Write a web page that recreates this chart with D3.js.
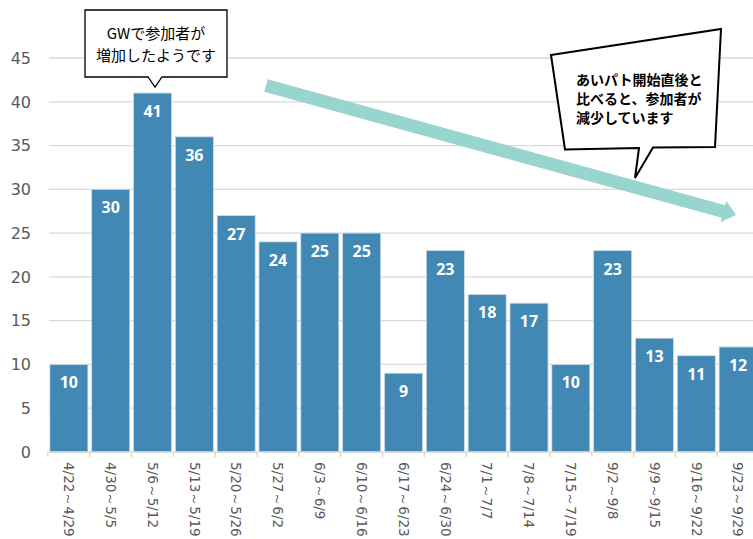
<!DOCTYPE html>
<html>
<head>
<meta charset="utf-8">
<script src="https://cdn.jsdelivr.net/npm/d3@7"></script>
<style>
  body { margin: 0; background: #fff; }
  svg { display: block; }
  .tick-label { font-family: "DejaVu Sans", sans-serif; fill: #595959; }
  .note { font-family: "Noto Sans CJK JP", sans-serif; fill: #000; }
</style>
</head>
<body>
<div class="chart"></div>
<script>
// weekly counts
var weeks = ["4/22～4/29", "4/30～5/5", "5/6～5/12", "5/13～5/19", "5/20～5/26",
  "5/27～6/2", "6/3～6/9", "6/10～6/16", "6/17～6/23", "6/24～6/30", "7/1～7/7",
  "7/8～7/14", "7/15～7/19", "9/2～9/8", "9/9～9/15", "9/16～9/22", "9/23～9/29"];
var counts = [10, 30, 41, 36, 27, 24, 25, 25, 9, 23, 18, 17, 10, 23, 13, 11, 12];
var yTicks = [0, 5, 10, 15, 20, 25, 30, 35, 40, 45];
var note1 = ["GWで参加者が", "増加したようです"];
var note2 = ["あいパト開始直後と", "比べると、参加者が", "減少しています"];

var svgWidth = 753;
var svgHeight = 539;

var data = weeks.map(function (w, i) { return { week: w, count: counts[i] }; });

var svg = d3.select(".chart")
  .append("svg")
  .attr("width", svgWidth)
  .attr("height", svgHeight);

var xScale = d3.scaleBand()
  .domain(weeks)
  .range([49, 758])
  .paddingInner(0.09)
  .paddingOuter(0.02);

var yScale = d3.scaleLinear()
  .domain([0, 45])
  .range([452, 58]);

// gridlines
svg.append("g")
  .selectAll("line")
  .data(yTicks.slice(1))
  .enter()
  .append("line")
  .attr("x1", 49)
  .attr("x2", svgWidth)
  .attr("y1", d => yScale(d))
  .attr("y2", d => yScale(d))
  .attr("stroke", "#d9d9d9")
  .attr("stroke-width", 1.3);

// y labels
svg.append("g")
  .selectAll("text")
  .data(yTicks)
  .enter()
  .append("text")
  .attr("class", "tick-label")
  .attr("x", 31)
  .attr("y", d => yScale(d))
  .attr("dy", "0.36em")
  .attr("text-anchor", "end")
  .style("font-size", "16px")
  .text(d => d);

// bars
svg.append("g")
  .selectAll("rect")
  .data(data)
  .enter()
  .append("rect")
  .attr("x", d => xScale(d.week))
  .attr("y", d => yScale(d.count))
  .attr("width", xScale.bandwidth())
  .attr("height", d => yScale(0) - yScale(d.count))
  .attr("fill", "#4189b4")
  .attr("stroke", "#cfdde6")
  .attr("stroke-width", 0.8);

// value labels
svg.append("g")
  .selectAll("text")
  .data(data)
  .enter()
  .append("text")
  .attr("x", d => xScale(d.week) + xScale.bandwidth() / 2)
  .attr("y", d => yScale(d.count) + 24)
  .attr("text-anchor", "middle")
  .style("font-family", "'Open Sans', sans-serif")
  .style("font-size", "16px")
  .style("font-weight", "bold")
  .style("fill", "#fff")
  .text(d => d.count);

// x axis
var step = xScale.step();
var axis = svg.append("g");
axis.append("line")
  .attr("x1", 49).attr("x2", svgWidth)
  .attr("y1", yScale(0)).attr("y2", yScale(0))
  .attr("stroke", "#d9d9d9").attr("stroke-width", 1.3);
axis.selectAll(".tk")
  .data(weeks)
  .enter()
  .append("line")
  .attr("class", "tk")
  .attr("x1", d => xScale(d) - step * xScale.paddingInner() / 2)
  .attr("x2", d => xScale(d) - step * xScale.paddingInner() / 2)
  .attr("y1", yScale(0))
  .attr("y2", yScale(0) + 5)
  .attr("stroke", "#d9d9d9").attr("stroke-width", 1.5);
axis.selectAll("text")
  .data(weeks)
  .enter()
  .append("text")
  .attr("class", "tick-label")
  .attr("transform", d => `translate(${xScale(d) + xScale.bandwidth() / 2}, 462) rotate(90)`)
  .attr("dy", "0.35em")
  .style("font-size", "13.5px")
  .text(d => d);

// trend arrow
var arrowStart = [266, 85.5];
var arrowEnd = [736, 215];
var ang = Math.atan2(arrowEnd[1] - arrowStart[1], arrowEnd[0] - arrowStart[0]);
var headLen = 13, headHalf = 11, half = 6.5;
function pt(base, along, across) {
  return [base[0] + along * Math.cos(ang) - across * Math.sin(ang),
          base[1] + along * Math.sin(ang) + across * Math.cos(ang)];
}
var len = Math.hypot(arrowEnd[0] - arrowStart[0], arrowEnd[1] - arrowStart[1]);
var arrowPts = [
  pt(arrowStart, 0, -half), pt(arrowStart, len - headLen, -half), pt(arrowStart, len - headLen, -headHalf),
  pt(arrowStart, len, 0),
  pt(arrowStart, len - headLen, headHalf), pt(arrowStart, len - headLen, half), pt(arrowStart, 0, half)
];
svg.append("polygon")
  .attr("points", arrowPts.map(p => p.join(",")).join(" "))
  .attr("fill", "#98d5cf");

// callout 1
svg.append("path")
  .attr("d", "M85,10 L227,10 L227,77 L162,77 L155,87 L148,77 L85,77 Z")
  .attr("fill", "#fff")
  .attr("stroke", "#000")
  .attr("stroke-width", 1.3);
svg.append("g")
  .selectAll("text")
  .data(note1)
  .enter()
  .append("text")
  .attr("class", "note")
  .attr("x", 156)
  .attr("y", (d, i) => 39 + i * 22)
  .attr("text-anchor", "middle")
  .style("font-size", "15px")
  .text(d => d);

// callout 2
svg.append("path")
  .attr("d", "M551,55 L721,29 L715,147 L653,147.5 L635,178 L639,148 L565,149.5 Z")
  .attr("fill", "#fff")
  .attr("stroke", "#000")
  .attr("stroke-width", 2);
svg.append("g")
  .selectAll("text")
  .data(note2)
  .enter()
  .append("text")
  .attr("class", "note")
  .attr("x", 576)
  .attr("y", (d, i) => 85 + i * 19)
  .style("font-size", "14px")
  .style("font-weight", "bold")
  .text(d => d);
</script>
</body>
</html>
